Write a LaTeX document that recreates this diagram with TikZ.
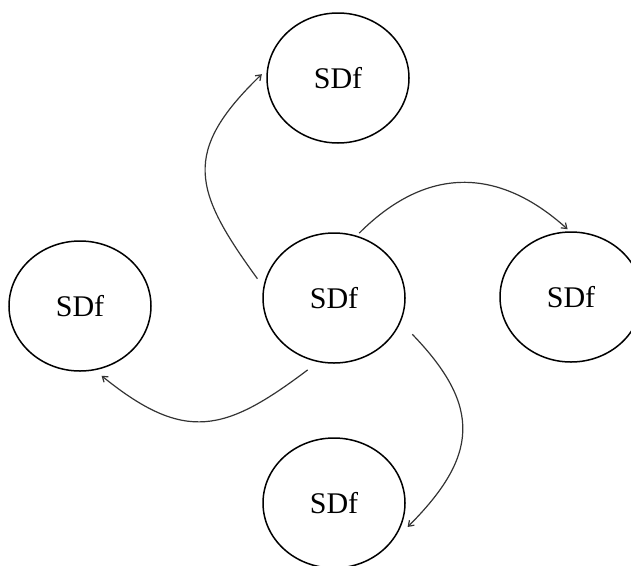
\documentclass[tikz,border=0pt]{standalone}
\usepackage{fontspec}
\setmainfont{Liberation Serif}
\usetikzlibrary{shapes.geometric,arrows.meta}

\tikzset{
  blob/.style={ellipse,draw,line width=1.5pt,minimum width=142pt,minimum height=130pt,
    inner sep=0pt,font=\fontsize{30}{30}\selectfont},
  flow/.style={draw=black!80,line width=1.2pt,-{Straight Barb[length=5pt,width=7pt]}}
}

\begin{document}
\begin{tikzpicture}[x=1pt,y=-1pt]
\useasboundingbox (0,0) rectangle (631,565);
\node[blob] (c) at (334,298) {SDf};
\node[blob] (t) at (338,78) {SDf};
\node[blob] (l) at (80,306) {SDf};
\node[blob] (r) at (571,297) {SDf};
\node[blob] (b) at (334,503) {SDf};
% four arcs swirling out of the middle one
\draw[flow,shorten <=10pt,shorten >=7pt] (c.171) to[out=126,in=224,looseness=1.4] (t.173);
\draw[flow,shorten <=3.5pt,shorten >=3pt] (c.70) to[out=45,in=138,looseness=1.17] (r.91);
\draw[flow,shorten <=16.8pt] (c.340) to[out=-46,in=45,out looseness=1.46,in looseness=1.25] ([shift={(6,2)}]b.-18);
\draw[flow,shorten <=13pt,shorten >=8.6pt] (c.256) to[out=217,in=321,looseness=1.33] (l.283);
\end{tikzpicture}
\end{document}
